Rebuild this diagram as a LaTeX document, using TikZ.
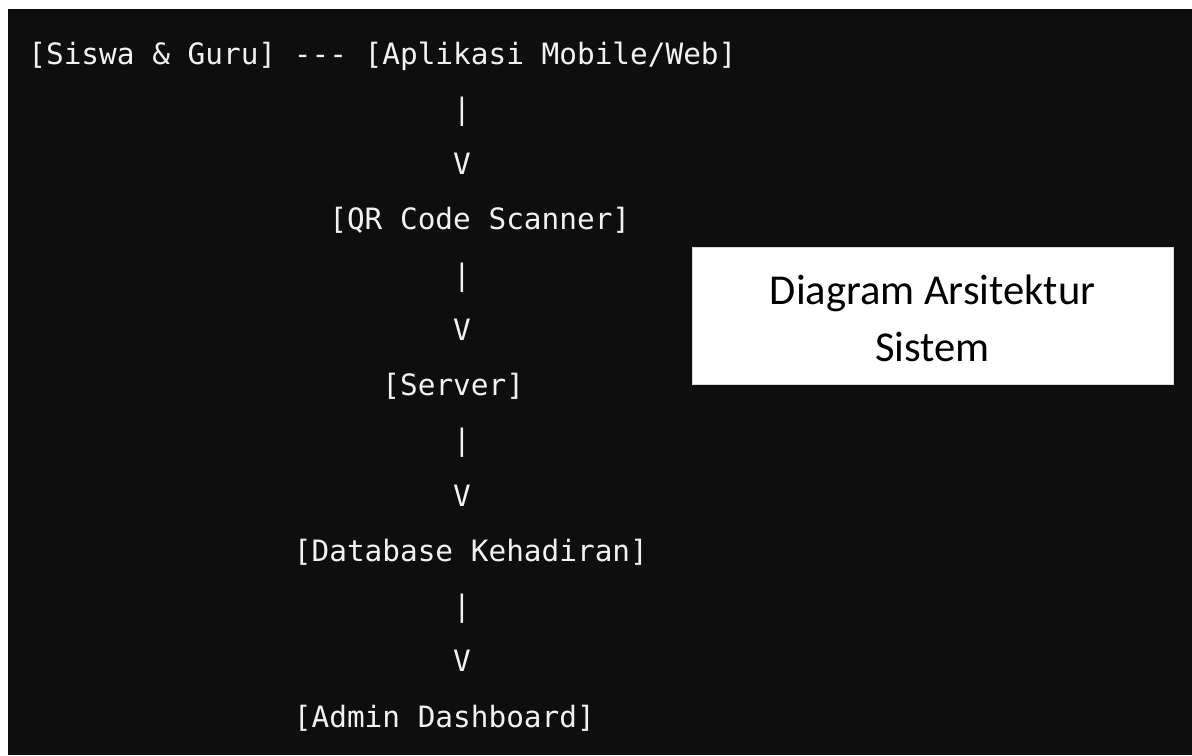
\documentclass[tikz,border=0pt]{standalone}
\usepackage{fontspec}
\usepackage{tikz}
\newfontfamily\codefont{DejaVu Sans Mono}
\newfontfamily\notefont{Carlito}
\definecolor{termbg}{HTML}{0E0E0E}
\definecolor{termtext}{HTML}{F2F2F2}
\tikzset{code/.style = {font = \codefont\fontsize{14.7}{17}\selectfont, text = termtext, anchor = base west, inner sep = 0}}

\begin{document}
\begin{tikzpicture}[x = 0.5pt, y = 0.5pt]
    \fill [white] (0, 0) rectangle (1192, -755);
    \fill [termbg] (8, -9) rectangle (1192, -755);
    \useasboundingbox (0, 0) rectangle (1192, -755);

    \node [code] (users) at (28, -64) {[Siswa \& Guru] --- [Aplikasi Mobile/Web]};
    \node [code] (pipeA) at (452.8, -119.25) {|};
    \node [code] (arrowA) at (452.8, -174.5) {V};
    \node [code] (scanner) at (328.9, -229.75) {[QR Code Scanner]};
    \node [code] (pipeB) at (452.8, -285) {|};
    \node [code] (arrowB) at (452.8, -340.25) {V};
    \node [code] (server) at (382, -395.5) {[Server]};
    \node [code] (pipeC) at (452.8, -450.75) {|};
    \node [code] (arrowC) at (452.8, -506) {V};
    \node [code] (database) at (293.5, -561.25) {[Database Kehadiran]};
    \node [code] (pipeD) at (452.8, -616.5) {|};
    \node [code] (arrowD) at (452.8, -671.75) {V};
    \node [code] (dashboard) at (293.5, -727) {[Admin Dashboard]};

    \draw [fill = white, draw = black!15, thin] (692, -247) rectangle (1173, -384);
    \node [font = \notefont\fontsize{21.3}{28.5}\selectfont, align = center] (caption) at (932.5, -318) {Diagram Arsitektur\\Sistem};
\end{tikzpicture}
\end{document}
